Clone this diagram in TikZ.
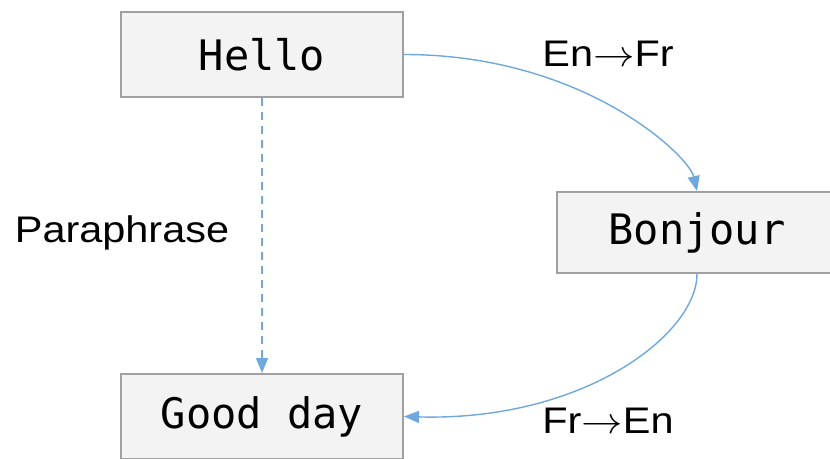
\documentclass[tikz,border=0pt]{standalone}
\usepackage{fix-cm}
\usepackage{fontspec}
\setmainfont{Liberation Sans}
\newfontfamily\monofont{DejaVu Sans Mono}
\usetikzlibrary{arrows.meta}
\definecolor{boxfill}{HTML}{F3F3F3}
\definecolor{boxline}{HTML}{A0A0A0}
\definecolor{edgeblue}{HTML}{6FA8DC}
\newcommand{\wideline}[1]{\scalebox{1.12}[1]{#1}}
\tikzset{
  wordbox/.style={draw=boxline, line width=2pt, fill=boxfill, minimum width=282pt, minimum height=85pt, inner sep=0pt, font=\monofont\fontsize{42}{50}\selectfont},
  link/.style={draw=edgeblue, line width=1.4pt, -{Triangle[length=15pt,width=12pt]}},
  lbl/.style={font=\fontsize{37}{44}\selectfont, inner sep=0pt}
}
\begin{document}
\begin{tikzpicture}[x=1pt,y=-1pt]
\useasboundingbox (0,0) rectangle (830,458);
\clip (0,0) rectangle (830,458);
\node[wordbox] (hello) at (262,54.5) {Hello};
\node[wordbox, minimum width=280pt, minimum height=81pt] (bonjour) at (697,232.5) {Bonjour};
\node[wordbox] (goodday) at (262,416.5) {Good day};
\draw[link] (hello.east) .. controls +(180,0) and +(-8,-35) .. (bonjour.north);
\draw[link] (bonjour.south) .. controls +(0,60) and +(180,5) .. (goodday.east);
\draw[link, dash pattern=on 8pt off 6pt] (hello.south) -- (goodday.north);
\node[lbl] (l1) at (608,54) {\wideline{En$\rightarrow$Fr}};
\node[lbl] (l2) at (122,233) {\wideline{Paraphrase}};
\node[lbl] (l3) at (608,421) {\wideline{Fr$\rightarrow$En}};
\end{tikzpicture}
\end{document}
